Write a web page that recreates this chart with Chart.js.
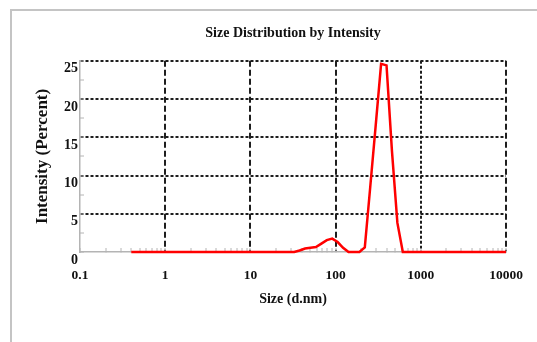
<!DOCTYPE html>
<html><head><meta charset="utf-8">
<script src="https://cdn.jsdelivr.net/npm/chart.js@4/dist/chart.umd.min.js"></script>
<style>html,body{margin:0;padding:0;background:#fff;overflow:hidden}</style>
</head><body>
<canvas id="c" width="537" height="342" style="display:block;width:537px;height:342px"></canvas>
<script>
// ---- data ----
const sizes = [0.4, 32.7, 37.8, 43.8, 50.7, 58.8, 68.1, 78.8, 91.3, 105.7, 122.4, 141.8, 164.2, 190.1, 220.2, 255.0, 295.3, 342.0, 396.1, 458.7, 531.2, 615.1, 10000];
const intensity = [0, 0, 0.2, 0.45, 0.55, 0.65, 1.1, 1.55, 1.75, 1.3, 0.55, 0, 0, 0, 0.6, 8.5, 16.5, 24.6, 24.4, 13.2, 3.8, 0, 0];
const xMajorTicks = [0.1, 1, 10, 100, 1000, 10000];
const xTickLabels = ['0.1', '1', '10', '100', '1000', '10000'];
const xMinorMultipliers = [2, 3, 4, 5, 6, 7, 8, 9];
const yMajorTicks = [0, 5, 10, 15, 20, 25];
const yTickLabels = ['0', '5', '10', '15', '20', '25'];
const yMinorTicks = [2.5, 7.5, 12.5, 17.5, 22.5];
const chartTitle = 'Size Distribution by Intensity';
const xTitle = 'Size (d.nm)';
const yTitle = 'Intensity (Percent)';

const FONT = "'Liberation Serif', 'Times New Roman', serif";
const GRID = '#1e1e1e';
const AXIS = '#b4b4b4';
const NONE = 'rgba(0,0,0,0)';

const framePlugin = {
  id: 'frame',
  beforeDraw(chart) {
    const ctx = chart.ctx;
    ctx.save();
    ctx.strokeStyle = '#c4c4c4';
    ctx.lineWidth = 2;
    ctx.beginPath();
    ctx.moveTo(11, 342);
    ctx.lineTo(11, 10);
    ctx.lineTo(537, 10);
    ctx.stroke();
    ctx.restore();
  }
};

new Chart(document.getElementById('c'), {
  type: 'line',
  data: {
    datasets: [{
      data: sizes.map((s, i) => ({ x: s, y: intensity[i] })),
      borderColor: '#ff0000',
      borderWidth: 2.5,
      pointRadius: 0,
      fill: false,
      tension: 0,
      clip: 6
    }]
  },
  plugins: [framePlugin],
  options: {
    responsive: false,
    animation: false,
    devicePixelRatio: 1,
    layout: { padding: { left: 28, right: 31, top: 0, bottom: 30 } },
    plugins: {
      legend: { display: false },
      tooltip: { enabled: false },
      title: {
        display: true,
        text: chartTitle,
        fullSize: false,
        color: '#111',
        font: { family: FONT, size: 14, weight: 'bold', lineHeight: 1.2 },
        padding: { top: 25, bottom: 19 }
      }
    },
    scales: {
      x: {
        type: 'logarithmic',
        min: 0.1,
        max: 10000,
        afterBuildTicks: (s) => {
          const t = [];
          xMajorTicks.forEach((v, i) => {
            t.push({ value: v, major: true });
            if (i < xMajorTicks.length - 1) {
              xMinorMultipliers.forEach(m => t.push({ value: +(v * m).toPrecision(3), major: false }));
            }
          });
          s.ticks = t;
        },
        afterFit: (s) => { s.height = 60; s.paddingLeft = 0; s.paddingRight = 0; },
        ticks: {
          autoSkip: false,
          maxRotation: 0,
          padding: 19,
          color: '#111',
          font: { family: FONT, size: 13.5, weight: 'bold', lineHeight: 1.2 },
          callback: (value) => {
            const i = xMajorTicks.indexOf(value);
            return i >= 0 ? xTickLabels[i] : '';
          }
        },
        grid: {
          drawTicks: true,
          tickLength: -4,
          tickWidth: 1,
          tickColor: AXIS,
          lineWidth: 2,
          color: (ctx) => (ctx.tick && ctx.tick.value !== 0.1 && xMajorTicks.includes(ctx.tick.value)) ? GRID : NONE
        },
        border: {
          display: true,
          color: AXIS,
          width: 1.5,
          dash: (ctx) => (ctx.tick && ctx.tick.value === 1000) ? [3, 2] : [6, 3]
        },
        title: {
          display: true,
          text: xTitle,
          color: '#111',
          font: { family: FONT, size: 14, weight: 'bold', lineHeight: 1.2 },
          padding: { top: 4, bottom: 4 }
        }
      },
      y: {
        type: 'linear',
        min: 0,
        max: 25,
        afterBuildTicks: (s) => {
          s.ticks = yMajorTicks.concat(yMinorTicks).sort((a, b) => a - b).map(v => ({ value: v }));
        },
        afterFit: (s) => { s.width = 52; s.paddingTop = 0; s.paddingBottom = 0; },
        ticks: {
          autoSkip: false,
          padding: 6,
          labelOffset: 8,
          color: '#111',
          font: { family: FONT, size: 14, weight: 'bold', lineHeight: 1.2 },
          callback: (value) => {
            const i = yMajorTicks.indexOf(value);
            return i >= 0 ? yTickLabels[i] : '';
          }
        },
        grid: {
          drawTicks: true,
          tickLength: -4,
          tickWidth: 1,
          tickColor: AXIS,
          lineWidth: 2,
          color: (ctx) => (ctx.tick && ctx.tick.value !== 0 && yMajorTicks.includes(ctx.tick.value)) ? GRID : NONE
        },
        border: {
          display: true,
          color: AXIS,
          width: 1.5,
          dash: [3, 2]
        },
        title: {
          display: true,
          text: yTitle,
          color: '#111',
          font: { family: FONT, size: 17, weight: 'bold', lineHeight: 1.2 },
          padding: { top: 4, bottom: 4 }
        }
      }
    }
  }
});
</script>
</body></html>
